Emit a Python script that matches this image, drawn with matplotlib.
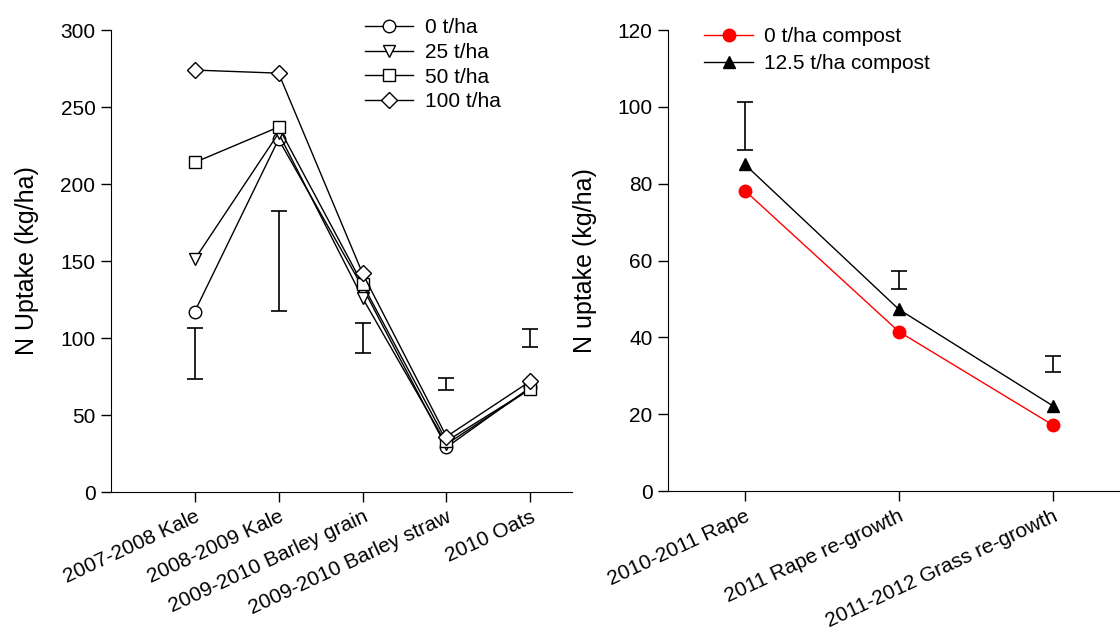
import matplotlib
matplotlib.use('Agg')
import matplotlib.pyplot as plt

plt.rcParams['font.family'] = ['Liberation Sans', 'DejaVu Sans']

# left panel: compost rates, 2007-2010
crops_left = ['2007-2008 Kale', '2008-2009 Kale', '2009-2010 Barley grain',
              '2009-2010 Barley straw', '2010 Oats']
n_0 = [117, 229, 133, 29, 68]
n_25 = [151, 233, 126, 31, 67]
n_50 = [214, 237, 135, 33, 67]
n_100 = [274, 272, 142, 36, 72]
lsd_left_mid = [90, 150, 100, 70, 100]
lsd_left_half = [16.5, 32.5, 10, 4, 6]

# right panel: compost 2010-2012
crops_right = ['2010-2011 Rape', '2011 Rape re-growth', '2011-2012 Grass re-growth']
c_0 = [78.2, 41.5, 17.2]
c_125 = [85.0, 47.3, 22.2]
lsd_right_mid = [95.1, 55.0, 33.0]
lsd_right_half = [6.2, 2.4, 2.1]

fig = plt.figure(figsize=(11.2, 6.27), dpi=100)
ax1 = fig.add_axes([0.0988, 0.2153, 0.4123, 0.7368])
ax2 = fig.add_axes([0.5964, 0.2169, 0.4122, 0.7352])

for ax in (ax1, ax2):
    ax.spines['top'].set_visible(False)
    ax.spines['right'].set_visible(False)
    ax.tick_params(direction='out', length=7, width=1, pad=4, labelsize=15)

xl = list(range(1, len(crops_left) + 1))
mk = dict(color='black', lw=1, ms=9, mfc='white', mec='black', mew=1)
ax1.plot(xl, n_0, marker='o', label='0 t/ha', **mk)
ax1.plot(xl, n_25, marker='v', label='25 t/ha', **mk)
ax1.plot(xl, n_50, marker='s', label='50 t/ha', **mk)
ax1.plot(xl, n_100, marker='D', label='100 t/ha', **dict(mk, ms=8.5))
ax1.errorbar(xl, lsd_left_mid, yerr=lsd_left_half, fmt='none', ecolor='black',
             elinewidth=1.2, capsize=6, capthick=1.2)
ax1.set_xlim(0, 5.5)
ax1.set_ylim(0, 300)
ax1.set_yticks(range(0, 301, 50))
ax1.set_xticks(xl)
ax1.set_xticklabels(crops_left, rotation=25, ha='right', rotation_mode='anchor')
ax1.set_ylabel('N Uptake (kg/ha)', fontsize=18, labelpad=15)
ax1.legend(loc='upper left', bbox_to_anchor=(0.326, 0.9708), bbox_transform=fig.transFigure,
           frameon=False, fontsize=15, handlelength=2.3, handletextpad=0.57,
           labelspacing=0.27, borderpad=0, borderaxespad=0)

xr = list(range(len(crops_right)))
ax2.plot(xr, c_0, marker='o', color='red', lw=1, ms=9, label='0 t/ha compost')
ax2.plot(xr, c_125, marker='^', color='black', lw=1, ms=9, label='12.5 t/ha compost')
ax2.errorbar(xr, lsd_right_mid, yerr=lsd_right_half, fmt='none', ecolor='black',
             elinewidth=1.2, capsize=6, capthick=1.2)
ax2.set_xlim(-0.5, 2.5)
ax2.set_ylim(0, 120)
ax2.set_yticks(range(0, 121, 20))
ax2.set_xticks(xr)
ax2.set_xticklabels(crops_right, rotation=25, ha='right', rotation_mode='anchor')
ax2.set_ylabel('N uptake (kg/ha)', fontsize=18, labelpad=15)
ax2.legend(loc='upper left', bbox_to_anchor=(0.6286, 0.9565), bbox_transform=fig.transFigure,
           frameon=False, fontsize=15, handlelength=2.35, handletextpad=0.53,
           labelspacing=0.38, borderpad=0, borderaxespad=0)

fig.savefig('out.png', dpi=100)
